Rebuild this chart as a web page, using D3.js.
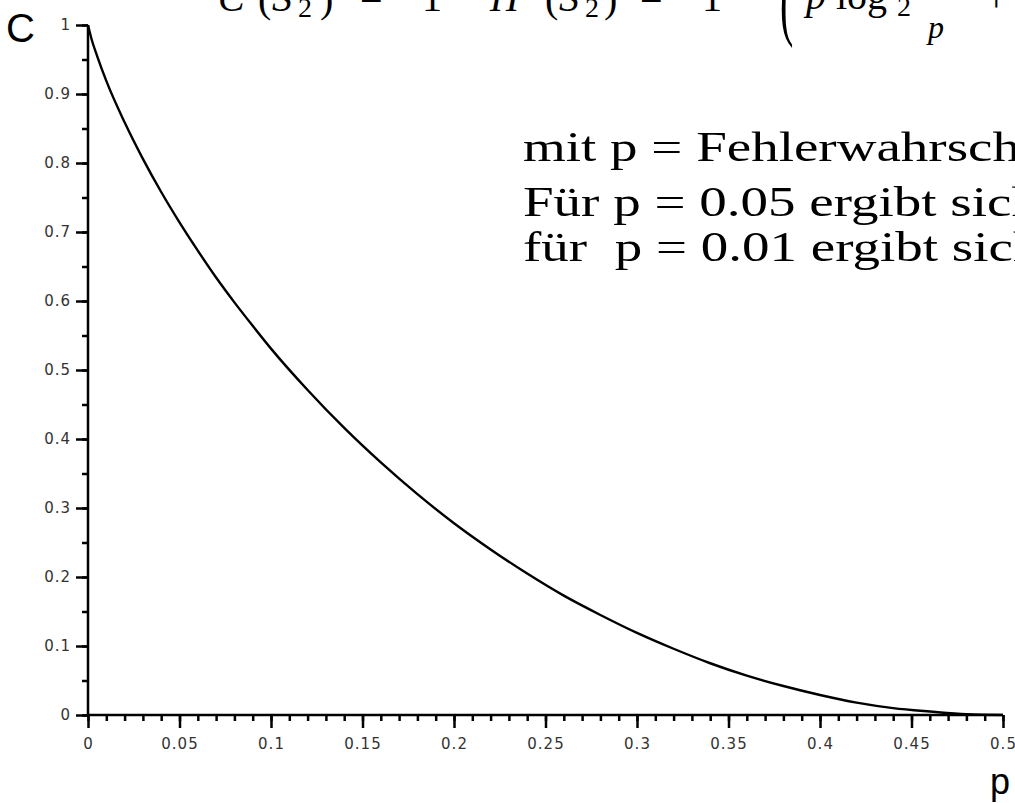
<!DOCTYPE html>
<html>
<head>
<meta charset="utf-8">
<script src="https://cdn.jsdelivr.net/npm/d3@7"></script>
<style>
  body { margin: 0; background: #fff; }
  svg { display: block; }
  .serif { font-family: "Liberation Serif", "Times New Roman", serif; fill: #000; }
</style>
</head>
<body>
<svg width="1015" height="803"></svg>
<script>
// error probability p and channel capacity C
var pValues = [0, 0.002, 0.005, 0.01, 0.02, 0.03, 0.04, 0.05, 0.06, 0.07, 0.08, 0.09, 0.1,
  0.12, 0.14, 0.16, 0.18, 0.2, 0.22, 0.24, 0.26, 0.28, 0.3, 0.32, 0.34, 0.36, 0.38,
  0.4, 0.42, 0.44, 0.46, 0.48, 0.5];
var cValues = [1, 0.979, 0.955, 0.919, 0.859, 0.806, 0.758, 0.714, 0.673, 0.634, 0.598, 0.564, 0.531,
  0.471, 0.416, 0.366, 0.320, 0.278, 0.240, 0.205, 0.173, 0.145, 0.119, 0.096, 0.075, 0.057, 0.042,
  0.029, 0.018, 0.010, 0.005, 0.001, 0];

var xTicks = [0, 0.05, 0.1, 0.15, 0.2, 0.25, 0.3, 0.35, 0.4, 0.45, 0.5];
var xTickLabels = ['0', '0.05', '0.1', '0.15', '0.2', '0.25', '0.3', '0.35', '0.4', '0.45', '0.5'];
var yTicks = [0, 0.1, 0.2, 0.3, 0.4, 0.5, 0.6, 0.7, 0.8, 0.9, 1];
var yTickLabels = ['0', '0.1', '0.2', '0.3', '0.4', '0.5', '0.6', '0.7', '0.8', '0.9', '1'];

var textLines = [
  'mit p = Fehlerwahrscheinlichkeit',
  'Für p = 0.05 ergibt sich C = 0.71',
  'für\u00a0 p = 0.01 ergibt sich C = 0.92'
];

var svg = d3.select('svg');
svg.append('rect').attr('width', 1015).attr('height', 803).attr('fill', '#fff');

var x = d3.scaleLinear().domain([0, 0.5]).range([88, 1003]);
var y = d3.scaleLinear().domain([0, 1]).range([715, 25]);

// minor ticks
var xMinor = d3.range(0, 51).map(function(i) { return i / 100; });
var yMinor = d3.range(0, 21).map(function(i) { return i / 20; });

svg.append('g')
  .attr('transform', 'translate(0,715)')
  .call(d3.axisBottom(x).tickValues(xMinor).tickSize(6).tickFormat(''))
  .call(function(g) { g.select('.domain').remove(); })
  .selectAll('line').attr('stroke-width', 2.5);

svg.append('g')
  .attr('transform', 'translate(88,0)')
  .call(d3.axisLeft(y).tickValues(yMinor).tickSize(6).tickFormat(''))
  .call(function(g) { g.select('.domain').remove(); })
  .selectAll('line').attr('stroke-width', 2.5);

function styleLabels(g) {
  g.attr('font-size', null).attr('font-family', null);
  g.select('.domain').remove();
  g.selectAll('line').attr('stroke-width', 2.5);
  g.selectAll('text')
    .attr('font-family', 'DejaVu Sans, sans-serif')
    .attr('font-size', 15)
    .attr('letter-spacing', 1)
    .attr('fill', '#333');
}

// major ticks with labels
svg.append('g')
  .attr('transform', 'translate(0,715)')
  .call(d3.axisBottom(x).tickValues(xTicks).tickSize(13).tickPadding(10)
    .tickFormat(function(d, i) { return xTickLabels[i]; }))
  .call(styleLabels);

svg.append('g')
  .attr('transform', 'translate(88,0)')
  .call(d3.axisLeft(y).tickValues(yTicks).tickSize(12).tickPadding(5)
    .tickFormat(function(d, i) { return yTickLabels[i]; }))
  .call(styleLabels);

// axis lines
svg.append('line').attr('x1', x(0)).attr('x2', x(0.5)).attr('y1', y(0)).attr('y2', y(0))
  .attr('stroke', '#000').attr('stroke-width', 2.5);
svg.append('line').attr('x1', x(0)).attr('x2', x(0)).attr('y1', y(0)).attr('y2', y(1))
  .attr('stroke', '#000').attr('stroke-width', 2.5);

// curve
var line = d3.line()
  .x(function(d, i) { return x(pValues[i]); })
  .y(function(d) { return y(d); })
  .curve(d3.curveMonotoneX);

svg.append('path')
  .datum(cValues)
  .attr('fill', 'none')
  .attr('stroke', '#000')
  .attr('stroke-width', 2.4)
  .attr('d', line);

// axis titles
svg.append('text').attr('x', 6).attr('y', 42)
  .style('font-family', '"Liberation Sans", Arial, sans-serif').style('font-size', '40px')
  .text('C');
svg.append('text').attr('x', 990).attr('y', 794)
  .style('font-family', '"Liberation Sans", Arial, sans-serif').style('font-size', '36px')
  .text('p');

// formula cut off at the top
var f = svg.append('g').attr('class', 'serif').style('font-size', '40px');
function part(txt, px, py, size, italic) {
  f.append('text').attr('x', px).attr('y', py)
    .style('font-size', (size || 40) + 'px')
    .style('font-style', italic ? 'italic' : 'normal')
    .text(txt);
}
part('C', 218, 11, 40, true);
part('(', 258, 12);
part('S', 272, 11, 40, true);
part('2', 298, 17, 28);
part(')', 320, 12);
part('=', 360, 11);
part('1', 422, 11);
part('\u2212', 455, 11);
part('H', 490, 11, 40, true);
part('(', 545, 12);
part('S', 559, 11, 40, true);
part('2', 585, 17, 28);
part(')', 604, 12);
part('=', 640, 11);
part('1', 702, 11);
part('\u2212', 740, 11);
f.append('text').attr('x', 780).attr('y', 30)
  .style('font-size', '40px')
  .attr('transform', 'translate(780,30) scale(1,2.1) translate(-780,-30)')
  .text('(');
part('p', 806, 9, 40, true);
part('log', 836, 9);
part('2', 897, 16, 28);
part('p', 928, 38, 32, true);
part('+', 985, 11);

// explanatory text, stretched sideways like the source
svg.append('g').attr('class', 'serif')
  .attr('transform', 'translate(523,0) scale(1.31,1)')
  .selectAll('text')
  .data(textLines)
  .enter().append('text')
    .attr('x', 0)
    .attr('y', function(d, i) { return [161, 216, 261][i]; })
    .style('font-size', '42px')
    .text(function(d) { return d; });
</script>
</body>
</html>
